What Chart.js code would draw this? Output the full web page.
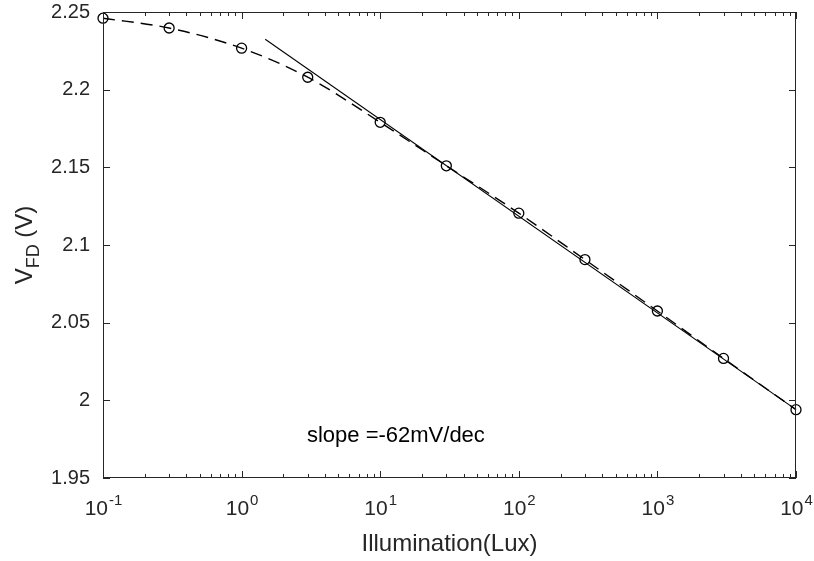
<!DOCTYPE html>
<html><head><meta charset="utf-8">
<script src="https://cdn.jsdelivr.net/npm/chart.js@4.4.0/dist/chart.umd.min.js"></script>
<style>html,body{margin:0;padding:0;background:#fff}#wrap{width:814px;height:561px}</style>
</head><body><div id="wrap"><canvas id="c" width="814" height="561"></canvas></div>
<script>
// ---- data ----
const illum = [0.1, 0.3, 1, 3, 10, 30, 100, 300, 1000, 3000, 10000];
const vfd   = [2.246, 2.2397, 2.2267, 2.208, 2.179, 2.151, 2.1205, 2.0906, 2.0575, 2.027, 1.994];
const fitX  = [1.48, 10000];
const fitY  = [2.2325, 1.994];
const yTicks = [1.95, 2, 2.05, 2.1, 2.15, 2.2, 2.25];
const xDecades = [-1, 0, 1, 2, 3, 4];
const slopeText = 'slope =-62mV/dec';
const slopePos = {x: 2.96, y: 1.977};
const xTitle = 'Illumination(Lux)';
const yTitleMain = 'V', yTitleSub = 'FD', yTitleTail = ' (V)';

const FONT = '"Liberation Sans", Arial, Helvetica, sans-serif';
const AX = '#262626';

const pts = illum.map((x, i) => ({x, y: vfd[i]}));
const fitPts = fitX.map((x, i) => ({x, y: fitY[i]}));

const axesPlugin = {
  id: 'matlabAxes',
  afterDraw(chart) {
    const {ctx, chartArea: a, scales} = chart;
    const xs = scales.x, ys = scales.y;
    ctx.save();
    ctx.strokeStyle = AX;
    ctx.lineWidth = 1;
    ctx.strokeRect(Math.round(a.left) + 0.5, Math.round(a.top) + 0.5,
                   Math.round(a.right - a.left) - 1, Math.round(a.bottom - a.top) - 1);
    ctx.beginPath();
    xDecades.forEach((d, i) => {
      const px = Math.round(xs.getPixelForValue(Math.pow(10, d))) + 0.5;
      ctx.moveTo(px, a.bottom); ctx.lineTo(px, a.bottom - 7);
      ctx.moveTo(px, a.top); ctx.lineTo(px, a.top + 7);
      if (i < xDecades.length - 1) {
        for (let k = 2; k <= 9; k++) {
          const mx = Math.round(xs.getPixelForValue(k * Math.pow(10, d))) + 0.5;
          ctx.moveTo(mx, a.bottom); ctx.lineTo(mx, a.bottom - 4);
          ctx.moveTo(mx, a.top); ctx.lineTo(mx, a.top + 4);
        }
      }
    });
    yTicks.forEach(v => {
      const py = Math.round(ys.getPixelForValue(v)) + 0.5;
      ctx.moveTo(a.left, py); ctx.lineTo(a.left + 7, py);
      ctx.moveTo(a.right, py); ctx.lineTo(a.right - 7, py);
    });
    ctx.stroke();

    ctx.fillStyle = AX;
    ctx.textBaseline = 'alphabetic';
    ctx.textAlign = 'left';
    const baseF = '21px ' + FONT, supF = '15px ' + FONT;
    xDecades.forEach(d => {
      const px = xs.getPixelForValue(Math.pow(10, d));
      ctx.font = baseF; const w1 = ctx.measureText('10').width;
      ctx.font = supF; const w2 = ctx.measureText(String(d)).width;
      const x0 = px - (w1 + w2) / 2;
      ctx.font = baseF; ctx.fillText('10', x0, a.bottom + 37);
      ctx.font = supF; ctx.fillText(String(d), x0 + w1 + 1, a.bottom + 27);
    });

    ctx.font = '24px ' + FONT;
    ctx.textAlign = 'center';
    ctx.fillText(xTitle, (a.left + a.right) / 2, a.bottom + 73);

    ctx.save();
    ctx.translate(32, (a.top + a.bottom) / 2);
    ctx.rotate(-Math.PI / 2);
    ctx.textAlign = 'left';
    const mF = '24px ' + FONT, sF = '18px ' + FONT;
    ctx.font = mF; const wa = ctx.measureText(yTitleMain).width;
    const wc = ctx.measureText(yTitleTail).width;
    ctx.font = sF; const wb = ctx.measureText(yTitleSub).width;
    let tx = -(wa + wb + wc) / 2;
    ctx.font = mF; ctx.fillText(yTitleMain, tx, 0); tx += wa;
    ctx.font = sF; ctx.fillText(yTitleSub, tx, 7); tx += wb;
    ctx.font = mF; ctx.fillText(yTitleTail, tx, 0);
    ctx.restore();

    ctx.font = '22px ' + FONT;
    ctx.textAlign = 'left';
    ctx.textBaseline = 'middle';
    ctx.fillStyle = '#000';
    ctx.fillText(slopeText, xs.getPixelForValue(slopePos.x), ys.getPixelForValue(slopePos.y));
    ctx.restore();
  }
};

new Chart(document.getElementById('c'), {
  type: 'scatter',
  data: {
    datasets: [
      { data: pts, showLine: true, borderColor: '#000', borderWidth: 1.4,
        borderDash: [12, 7], pointRadius: 0, cubicInterpolationMode: 'monotone', clip: false },
      { data: fitPts, showLine: true, borderColor: '#000', borderWidth: 1.1,
        pointRadius: 0, clip: false },
      { data: pts, showLine: false, pointStyle: 'circle', pointRadius: 5,
        borderColor: '#000', backgroundColor: 'rgba(0,0,0,0)', pointBorderWidth: 1.3, clip: false }
    ]
  },
  options: {
    responsive: false, animation: false, devicePixelRatio: 1,
    layout: { padding: { top: 12, right: 18, left: 0, bottom: 0 } },
    plugins: { legend: { display: false }, tooltip: { enabled: false } },
    scales: {
      x: { type: 'logarithmic', min: 0.1, max: 10000,
           ticks: { display: false }, grid: { display: false }, border: { display: false },
           afterFit(s) { s.height = 83; s.paddingLeft = 0; s.paddingRight = 0; } },
      y: { type: 'linear', min: 1.95, max: 2.25,
           afterBuildTicks(s) { s.ticks = yTicks.map(v => ({ value: v })); },
           ticks: { color: AX, padding: 5, font: { family: FONT, size: 20 },
                    callback: v => String(parseFloat(Number(v).toFixed(2))) },
           grid: { display: false }, border: { display: false },
           afterFit(s) { s.width = 103; s.paddingTop = 0; s.paddingBottom = 0; } }
    }
  },
  plugins: [axesPlugin]
});
</script>
</body></html>
